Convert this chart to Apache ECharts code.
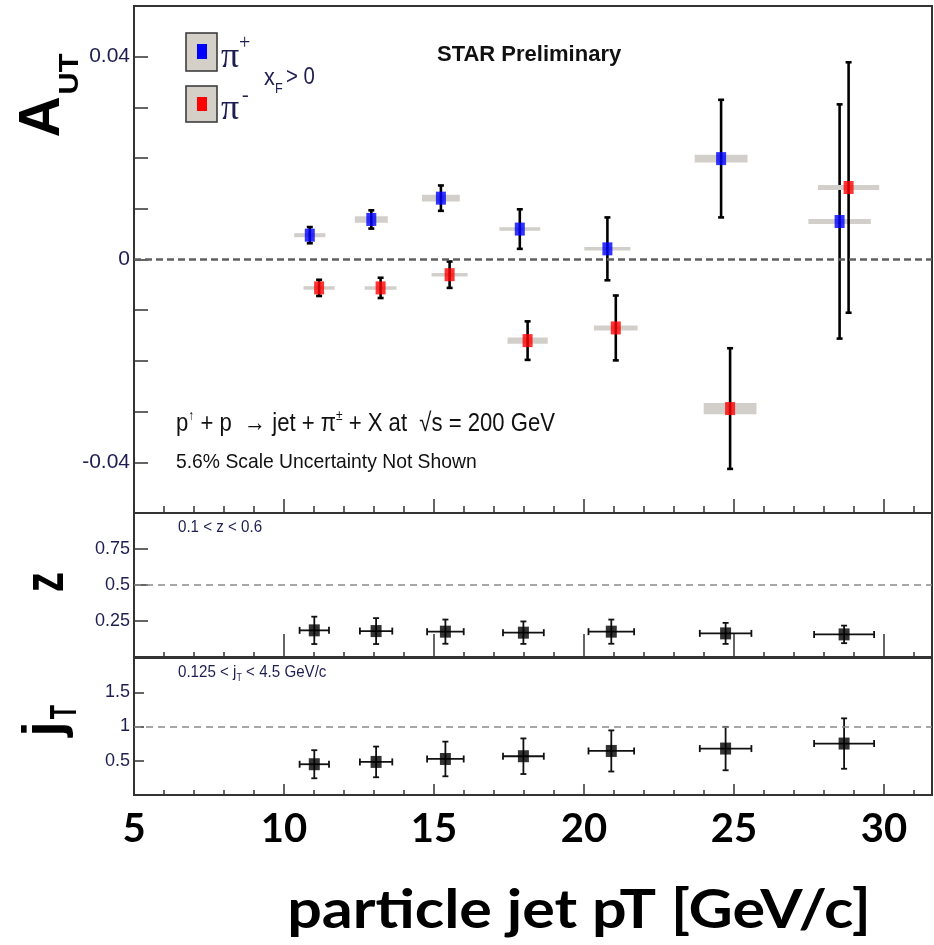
<!DOCTYPE html>
<html lang="en">
<head>
    <meta charset="UTF-8">
    <title>STAR A_UT vs particle jet pT</title>
    <style>
        html, body { margin: 0; padding: 0; background: #fff; }
        #main { width: 934px; height: 945px; }
    </style>
</head>
<body>
    <div id="main"></div>
    <script src="https://cdn.jsdelivr.net/npm/echarts@6/dist/echarts.min.js"></script>
    <script>
        // pi+ : jet pT, A_UT, stat error, syst box half width (pT), syst box half height (A_UT)
        var piPlusPt = [10.86, 12.91, 15.23, 17.86, 20.78, 24.57, 28.52];
        var piPlusAut = [0.0048, 0.0079, 0.0121, 0.0060, 0.0021, 0.0199, 0.0075];
        var piPlusStat = [0.0016, 0.0018, 0.0025, 0.0039, 0.0062, 0.0116, 0.0231];
        var piPlusSysX = [0.52, 0.55, 0.63, 0.68, 0.77, 0.88, 1.04];
        var piPlusSysY = [0.0004, 0.00065, 0.00065, 0.0003, 0.0003, 0.00075, 0.0005];

        // pi-
        var piMinusPt = [11.17, 13.22, 15.52, 18.12, 21.06, 24.87, 28.82];
        var piMinusAut = [-0.0056, -0.0056, -0.0030, -0.0160, -0.0135, -0.0294, 0.0142];
        var piMinusStat = [0.0016, 0.0020, 0.0026, 0.0038, 0.0064, 0.0119, 0.0247];
        var piMinusSysX = [0.52, 0.53, 0.60, 0.67, 0.73, 0.88, 1.02];
        var piMinusSysY = [0.0003, 0.0003, 0.0003, 0.0006, 0.0005, 0.0011, 0.0005];

        // kinematics of the bins (z and jT panels)
        var kinPt = [11.01, 13.07, 15.38, 17.98, 20.91, 24.72, 28.67];
        var kinPtErr = [0.49, 0.54, 0.61, 0.68, 0.76, 0.86, 1.00];
        var zMean = [0.185, 0.180, 0.176, 0.169, 0.176, 0.164, 0.157];
        var zErr = [0.095, 0.090, 0.084, 0.078, 0.084, 0.073, 0.061];
        var jtMean = [0.449, 0.483, 0.526, 0.566, 0.643, 0.678, 0.751];
        var jtErr = [0.205, 0.224, 0.253, 0.260, 0.300, 0.317, 0.368];

        var narrow = '"Liberation Sans Narrow", "Liberation Sans", Arial, sans-serif';
        var tickColor = '#1e1e50';

        var chart = echarts.init(document.getElementById('main'));

        function zip() {
            var cols = Array.prototype.slice.call(arguments);
            return cols[0].map(function (v, i) {
                return cols.map(function (c) { return c[i]; });
            });
        }

        // grey syst box + black stat error bar
        function autItem(params, api) {
            var x = api.value(0), y = api.value(1), e = api.value(2);
            var sx = api.value(3), sy = api.value(4);
            var c = api.coord([x, y]);
            var lo = api.coord([x - sx, y - sy]);
            var hi = api.coord([x + sx, y + sy]);
            var top = api.coord([x, y + e])[1];
            var bot = api.coord([x, y - e])[1];
            var h = Math.max(lo[1] - hi[1], 3.5);
            var st = { stroke: '#000', lineWidth: 2.6 };
            return {
                type: 'group',
                children: [
                    { type: 'rect', shape: { x: lo[0], y: c[1] - h / 2, width: hi[0] - lo[0], height: h },
                      style: { fill: '#d2cfcb' } },
                    { type: 'line', shape: { x1: c[0], y1: top, x2: c[0], y2: bot }, style: st },
                    { type: 'line', shape: { x1: c[0] - 3, y1: top, x2: c[0] + 3, y2: top }, style: st },
                    { type: 'line', shape: { x1: c[0] - 3, y1: bot, x2: c[0] + 3, y2: bot }, style: st }
                ]
            };
        }

        // cross error bars with caps
        function kinItem(params, api) {
            var x = api.value(0), ex = api.value(1), y = api.value(2), ey = api.value(3);
            var c = api.coord([x, y]);
            var l = api.coord([x - ex, y])[0], r = api.coord([x + ex, y])[0];
            var t = api.coord([x, y + ey])[1], b = api.coord([x, y - ey])[1];
            var st = { stroke: '#111', lineWidth: 1.8 };
            return {
                type: 'group',
                children: [
                    { type: 'line', shape: { x1: l, y1: c[1], x2: r, y2: c[1] }, style: st },
                    { type: 'line', shape: { x1: c[0], y1: t, x2: c[0], y2: b }, style: st },
                    { type: 'line', shape: { x1: l, y1: c[1] - 3.5, x2: l, y2: c[1] + 3.5 }, style: st },
                    { type: 'line', shape: { x1: r, y1: c[1] - 3.5, x2: r, y2: c[1] + 3.5 }, style: st },
                    { type: 'line', shape: { x1: c[0] - 3, y1: t, x2: c[0] + 3, y2: t }, style: st },
                    { type: 'line', shape: { x1: c[0] - 3, y1: b, x2: c[0] + 3, y2: b }, style: st }
                ]
            };
        }

        var grids = [
            { left: 134, top: 6, width: 798, height: 507 },
            { left: 134, top: 513, width: 798, height: 144 },
            { left: 134, top: 658, width: 798, height: 137 }
        ];
        var majorLen = [14, 23, 11];
        var minorLen = [7, 5, 5];

        var xAxes = [];
        [0, 1, 2].forEach(function (i) {
            xAxes.push({
                gridIndex: i, type: 'value', position: 'bottom', min: 5, max: 31.6, interval: 5,
                axisLine: { show: false, onZero: false },
                axisTick: { inside: true, length: majorLen[i], lineStyle: { color: '#333', width: 1.5 } },
                axisLabel: {
                    show: i === 2, showMaxLabel: false, margin: 14,
                    fontFamily: 'Lato, "Open Sans", sans-serif', fontWeight: 'bold', fontSize: 40, color: '#000'
                },
                splitLine: { show: false }
            });
        });
        [0, 1, 2].forEach(function (i) {
            xAxes.push({
                gridIndex: i, type: 'value', position: 'bottom', min: 5, max: 31.6, interval: 1,
                axisLine: { show: false, onZero: false },
                axisTick: { inside: true, length: minorLen[i], lineStyle: { color: '#333', width: 1.5 } },
                axisLabel: { show: false },
                splitLine: { show: false }
            });
        });

        function yAxis(i, min, max, interval, fontSize, tickLen, fmt) {
            return {
                gridIndex: i, type: 'value', position: 'left', min: min, max: max, interval: interval,
                axisLine: { show: false, onZero: false },
                axisTick: { inside: true, length: tickLen, lineStyle: { color: '#333', width: 1.5 } },
                axisLabel: {
                    margin: 4, fontFamily: narrow, fontSize: fontSize, color: tickColor,
                    showMinLabel: false, showMaxLabel: false, formatter: fmt
                },
                splitLine: { show: false }
            };
        }

        function label(x, y, text, size, opts) {
            var o = opts || {};
            return {
                type: 'text', x: x, y: y, scaleX: o.scaleX || 1, rotation: o.rotation || 0,
                style: {
                    text: text, fontFamily: o.family || narrow, fontWeight: o.weight || 'normal',
                    fontSize: size, fill: o.color || '#111',
                    align: o.align || 'left', verticalAlign: 'middle', rich: o.rich
                }
            };
        }

        var bold = '"Liberation Sans", Arial, sans-serif';
        var serif = '"Liberation Serif", serif';

        var option = {
            animation: false,
            backgroundColor: '#fff',
            grid: grids.map(function (g) {
                return Object.assign({ show: true, borderColor: '#333', borderWidth: 2, backgroundColor: 'transparent' }, g);
            }),
            xAxis: xAxes,
            yAxis: [
                yAxis(0, -0.05, 0.05, 0.01, 21, 14, function (v) {
                    var r = Math.round(v * 100);
                    if (r % 4 !== 0) return '';
                    return r === 0 ? '0' : (r / 100).toFixed(2);
                }),
                yAxis(1, 0, 1, 0.25, 18, 14, function (v) { return String(v); }),
                yAxis(2, 0, 2, 0.5, 18, 10, function (v) { return String(v); })
            ],
            series: [
                {
                    type: 'custom', xAxisIndex: 0, yAxisIndex: 0, renderItem: autItem,
                    data: zip(piPlusPt, piPlusAut, piPlusStat, piPlusSysX, piPlusSysY), z: 2
                },
                {
                    type: 'custom', xAxisIndex: 0, yAxisIndex: 0, renderItem: autItem,
                    data: zip(piMinusPt, piMinusAut, piMinusStat, piMinusSysX, piMinusSysY), z: 2
                },
                {
                    name: 'pi+', type: 'scatter', xAxisIndex: 0, yAxisIndex: 0, z: 3,
                    symbol: 'rect', symbolSize: [10, 13], itemStyle: { color: '#0000ff' },
                    data: zip(piPlusPt, piPlusAut),
                    markLine: {
                        silent: true, symbol: ['none', 'none'], label: { show: false },
                        lineStyle: { color: '#606060', width: 2.6, type: [7, 4] },
                        data: [{ yAxis: 0 }]
                    }
                },
                {
                    name: 'pi-', type: 'scatter', xAxisIndex: 0, yAxisIndex: 0, z: 3,
                    symbol: 'rect', symbolSize: [10, 13], itemStyle: { color: '#ff0000' },
                    data: zip(piMinusPt, piMinusAut)
                },
                {
                    type: 'custom', xAxisIndex: 1, yAxisIndex: 1, renderItem: kinItem,
                    data: zip(kinPt, kinPtErr, zMean, zErr)
                },
                {
                    type: 'scatter', xAxisIndex: 1, yAxisIndex: 1, z: 3,
                    symbol: 'rect', symbolSize: [11, 12], itemStyle: { color: '#000' },
                    data: zip(kinPt, zMean),
                    markLine: {
                        silent: true, symbol: ['none', 'none'], label: { show: false },
                        lineStyle: { color: '#8a8a8a', width: 1.6, type: [7, 5] },
                        data: [{ yAxis: 0.5 }]
                    }
                },
                {
                    type: 'custom', xAxisIndex: 2, yAxisIndex: 2, renderItem: kinItem,
                    data: zip(kinPt, kinPtErr, jtMean, jtErr)
                },
                {
                    type: 'scatter', xAxisIndex: 2, yAxisIndex: 2, z: 3,
                    symbol: 'rect', symbolSize: [11, 12], itemStyle: { color: '#000' },
                    data: zip(kinPt, jtMean),
                    markLine: {
                        silent: true, symbol: ['none', 'none'], label: { show: false },
                        lineStyle: { color: '#8a8a8a', width: 1.6, type: [7, 5] },
                        data: [{ yAxis: 1 }]
                    }
                }
            ],
            graphic: [
                // legend boxes
                { type: 'rect', shape: { x: 186, y: 33, width: 31, height: 38 }, style: { fill: '#d4d0c8', stroke: '#333', lineWidth: 1.5 } },
                { type: 'rect', shape: { x: 197, y: 44, width: 10, height: 15 }, style: { fill: '#0000ff' } },
                { type: 'rect', shape: { x: 186, y: 86, width: 31, height: 36 }, style: { fill: '#d4d0c8', stroke: '#333', lineWidth: 1.5 } },
                { type: 'rect', shape: { x: 197, y: 97, width: 10, height: 14 }, style: { fill: '#ff0000' } },
                label(221, 58, 'π', 36, { family: serif, color: tickColor }),
                label(239, 44, '+', 20, { family: serif, color: tickColor }),
                label(221, 110, 'π', 36, { family: serif, color: tickColor }),
                label(242, 96, '-', 20, { family: serif, color: tickColor }),
                // x_F > 0
                label(264, 78, 'x', 24, { color: tickColor, scaleX: 0.9 }),
                label(275, 89, 'F', 14, { color: tickColor, scaleX: 0.9 }),
                label(286, 77, '> 0', 24, { color: tickColor, scaleX: 0.85 }),
                label(437, 55, 'STAR Preliminary', 22, { weight: 'bold' }),
                // reaction
                label(176, 424, '{n|p}{u|↑}{n| + p  → jet + π}{u|±}{n| + X at  √s = 200 GeV}', 26, {
                    scaleX: 0.85,
                    rich: {
                        n: { fontFamily: narrow, fontSize: 26, fill: '#111', lineHeight: 30 },
                        u: { fontFamily: narrow, fontSize: 14, fill: '#111', verticalAlign: 'top', lineHeight: 30 }
                    }
                }),
                label(176, 462, '5.6% Scale Uncertainty Not Shown', 21, { scaleX: 0.92 }),
                // panel labels
                label(178, 527, '0.1 < z < 0.6', 17, { color: tickColor, scaleX: 0.89 }),
                label(178, 672, '{n|0.125 < j}{s|T}{n| < 4.5 GeV/c}', 17, {
                    scaleX: 0.89,
                    rich: {
                        n: { fontFamily: narrow, fontSize: 17, fill: tickColor, lineHeight: 22 },
                        s: { fontFamily: narrow, fontSize: 10, fill: tickColor, verticalAlign: 'bottom', lineHeight: 22 }
                    }
                }),
                // y titles (rotated)
                label(43, 117, 'A', 57, { family: bold, weight: 'bold', color: '#000', align: 'center', rotation: Math.PI / 2 }),
                label(70, 74, 'UT', 28, { family: bold, weight: 'bold', color: '#000', align: 'center', rotation: Math.PI / 2, scaleX: 1.1 }),
                label(47, 582, 'z', 58, { family: bold, weight: 'bold', color: '#000', align: 'center', rotation: Math.PI / 2, scaleX: 0.7 }),
                label(46, 729, 'j', 56, { family: bold, weight: 'bold', color: '#000', align: 'center', rotation: Math.PI / 2 }),
                label(66, 712, 'T', 36, { family: bold, weight: 'bold', color: '#000', align: 'center', rotation: Math.PI / 2, scaleX: 0.65 }),
                // x title
                label(579, 911, 'particle jet pT [GeV/c]', 54, {
                    family: 'Lato, "Open Sans", sans-serif', weight: 'bold', color: '#000', align: 'center', scaleX: 1.13
                })
            ]
        };

        chart.setOption(option);
    </script>
</body>
</html>
